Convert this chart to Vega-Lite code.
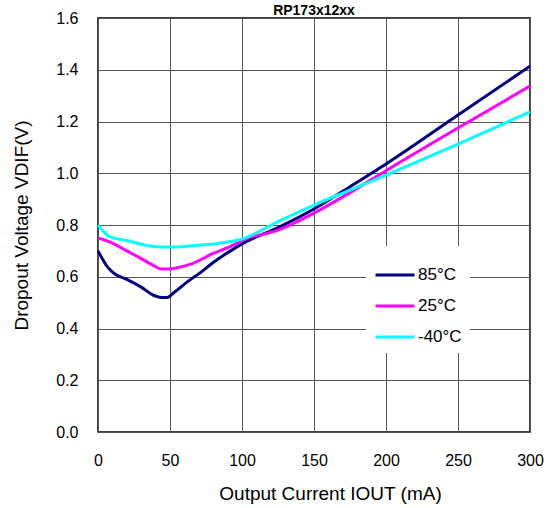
{
  "$schema": "https://vega.github.io/schema/vega-lite/v6.json",
  "width": 432,
  "height": 414,
  "autosize": {"type": "none"},
  "padding": {"left": 98, "top": 18, "right": 19, "bottom": 76},
  "background": "white",
  "title": {"text": "RP173x12xx", "font": "Liberation Sans", "fontSize": 14, "fontWeight": "bold", "color": "black", "offset": 2, "dy": 10, "anchor": "middle"},
  "config": {
    "font": "Liberation Sans",
    "view": {"stroke": "black", "strokeWidth": 1.5},
    "axis": {"labelFont": "Liberation Sans", "titleFont": "Liberation Sans", "labelColor": "black", "titleColor": "black", "labelFontSize": 16, "titleFontSize": 19, "titleFontWeight": "normal", "domain": false, "ticks": false, "labelFlush": false, "gridColor": "#555555", "gridWidth": 1, "gridOpacity": 1}
  },
  "data": {"values": [
    {"t": "85°C", "i": 0, "v": 0.70}, {"t": "85°C", "i": 3, "v": 0.67}, {"t": "85°C", "i": 7, "v": 0.635}, {"t": "85°C", "i": 12, "v": 0.61}, {"t": "85°C", "i": 20, "v": 0.59}, {"t": "85°C", "i": 30, "v": 0.56}, {"t": "85°C", "i": 38, "v": 0.53}, {"t": "85°C", "i": 44, "v": 0.52}, {"t": "85°C", "i": 48, "v": 0.52}, {"t": "85°C", "i": 53, "v": 0.54}, {"t": "85°C", "i": 62, "v": 0.58}, {"t": "85°C", "i": 72, "v": 0.62}, {"t": "85°C", "i": 80, "v": 0.655}, {"t": "85°C", "i": 92, "v": 0.70}, {"t": "85°C", "i": 100, "v": 0.727}, {"t": "85°C", "i": 125, "v": 0.79}, {"t": "85°C", "i": 150, "v": 0.862}, {"t": "85°C", "i": 175, "v": 0.948}, {"t": "85°C", "i": 200, "v": 1.036}, {"t": "85°C", "i": 250, "v": 1.225}, {"t": "85°C", "i": 300, "v": 1.414},
    {"t": "25°C", "i": 0, "v": 0.75}, {"t": "25°C", "i": 10, "v": 0.73}, {"t": "25°C", "i": 20, "v": 0.70}, {"t": "25°C", "i": 30, "v": 0.67}, {"t": "25°C", "i": 38, "v": 0.645}, {"t": "25°C", "i": 44, "v": 0.63}, {"t": "25°C", "i": 50, "v": 0.63}, {"t": "25°C", "i": 55, "v": 0.635}, {"t": "25°C", "i": 65, "v": 0.65}, {"t": "25°C", "i": 80, "v": 0.69}, {"t": "25°C", "i": 95, "v": 0.725}, {"t": "25°C", "i": 100, "v": 0.74}, {"t": "25°C", "i": 125, "v": 0.78}, {"t": "25°C", "i": 150, "v": 0.846}, {"t": "25°C", "i": 175, "v": 0.925}, {"t": "25°C", "i": 200, "v": 1.01}, {"t": "25°C", "i": 250, "v": 1.175}, {"t": "25°C", "i": 300, "v": 1.337},
    {"t": "-40°C", "i": 0, "v": 0.80}, {"t": "-40°C", "i": 3, "v": 0.78}, {"t": "-40°C", "i": 8, "v": 0.755}, {"t": "-40°C", "i": 20, "v": 0.74}, {"t": "-40°C", "i": 35, "v": 0.72}, {"t": "-40°C", "i": 45, "v": 0.715}, {"t": "-40°C", "i": 55, "v": 0.715}, {"t": "-40°C", "i": 65, "v": 0.72}, {"t": "-40°C", "i": 85, "v": 0.73}, {"t": "-40°C", "i": 100, "v": 0.746}, {"t": "-40°C", "i": 125, "v": 0.813}, {"t": "-40°C", "i": 150, "v": 0.877}, {"t": "-40°C", "i": 175, "v": 0.935}, {"t": "-40°C", "i": 200, "v": 0.993}, {"t": "-40°C", "i": 250, "v": 1.113}, {"t": "-40°C", "i": 300, "v": 1.237}
  ]},
  "mark": {"type": "line", "strokeWidth": 3, "interpolate": "monotone"},
  "encoding": {
    "x": {"field": "i", "type": "quantitative", "scale": {"domain": [0, 300], "nice": false}, "axis": {"title": "Output Current IOUT (mA)", "values": [0, 50, 100, 150, 200, 250, 300], "labelPadding": 20, "titlePadding": 16, "titleX": 232, "grid": true}},
    "y": {"field": "v", "type": "quantitative", "scale": {"domain": [0, 1.6], "nice": false}, "axis": {"title": "Dropout Voltage VDIF(V)", "values": [0, 0.2, 0.4, 0.6, 0.8, 1.0, 1.2, 1.4, 1.6], "format": ".1f", "labelPadding": 20, "titlePadding": 24}},
    "color": {"field": "t", "type": "nominal", "sort": ["85°C", "25°C", "-40°C"], "scale": {"domain": ["85°C", "25°C", "-40°C"], "range": ["#000080", "#FF00FF", "#00FFFF"]}, "legend": {"title": null, "orient": "none", "legendX": 268, "legendY": 228, "padding": 8, "fillColor": "white", "symbolType": "stroke", "symbolSize": 1521, "symbolStrokeWidth": 3, "labelFontSize": 17, "labelFont": "Liberation Sans", "labelColor": "black", "labelOffset": 2, "rowPadding": 2}}
  }
}
